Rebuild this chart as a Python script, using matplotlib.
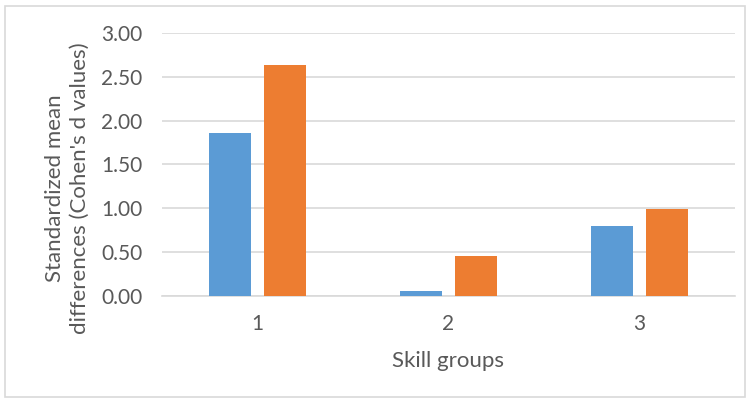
import matplotlib
matplotlib.use("Agg")
import matplotlib.pyplot as plt
import numpy as np
from matplotlib.patches import Rectangle

# data
groups = ["1", "2", "3"]
series_a = [1.86, 0.06, 0.80]
series_b = [2.63, 0.46, 0.99]

blue = "#5B9BD5"
orange = "#ED7D31"

plt.rcParams["font.family"] = ["Lato", "DejaVu Sans"]

fig = plt.figure(figsize=(7.5, 4.01), dpi=100)
ax = fig.add_axes([0.216, 0.262, 0.764, 0.656])

x = np.arange(1, len(groups) + 1)
w = 0.225
off = 0.144
ax.bar(x - off, series_a, width=w, color=blue, zorder=3)
ax.bar(x + off, series_b, width=w, color=orange, zorder=3)

ax.set_xlim(0.5, 3.5)
ax.set_ylim(0, 3.0)
ax.set_yticks(np.arange(0, 3.01, 0.5))
ax.set_yticklabels([f"{v:.2f}" for v in np.arange(0, 3.01, 0.5)])
ax.set_xticks(x)
ax.set_xticklabels(groups)
ax.grid(axis="y", color="#d9d9d9", linewidth=1.2, zorder=0)
for s in ["top", "right", "left"]:
    ax.spines[s].set_visible(False)
ax.spines["bottom"].set_color("#d9d9d9")
ax.spines["bottom"].set_linewidth(1.2)
ax.tick_params(length=0, labelsize=15, colors="#595959")
ax.tick_params(axis="y", pad=14)
ax.tick_params(axis="x", pad=13)

# y axis title, placed as in the reference
fig.text(67 / 750, 1 - 188 / 401,
         "Standardized mean\ndifferences (Cohen's d values)",
         rotation=90, ha="center", va="center", multialignment="center",
         fontsize=16, color="#595959", linespacing=1.3)
ax.set_xlabel("Skill groups", fontsize=16, color="#595959", labelpad=12)

# chart area border
fig.patches.append(Rectangle((5 / 750, 4 / 401), 740 / 750, 391 / 401,
                             transform=fig.transFigure, fill=False,
                             edgecolor="#d9d9d9", linewidth=1.2))

fig.savefig("out.png", dpi=100)
